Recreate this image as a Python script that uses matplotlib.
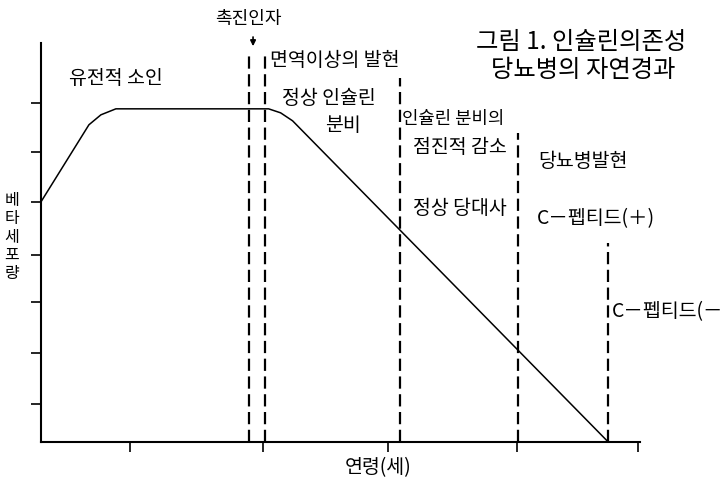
import matplotlib.pyplot as plt

plt.rcParams['font.family'] = ['Noto Sans CJK KR', 'DejaVu Sans']

# 베타세포량 곡선 (임의 단위, 가로 0~100 / 세로 0~100)
age = [0, 8, 10, 12.5, 38, 40, 42, 94.7]
beta_mass = [60.2, 79.5, 82, 83.5, 83.5, 82.5, 80.5, 0]

# 단계 구분 점선 (x 위치, 위쪽 끝)
stage_x = [34.7, 37.4, 59.9, 79.6, 94.7]
stage_top = [97, 97, 91.2, 77.4, 49.9]

yticks = [9.5, 22.3, 35.1, 46.9, 60.2, 72.7, 85.0]
xticks = [14.9, 37.1, 57.9, 79.5, 99.7]

fig = plt.figure(figsize=(7.25, 4.79), dpi=100)
ax = fig.add_axes([41 / 725, 37 / 479, 599 / 725, 399 / 479])
ax.set_xlim(0, 100)
ax.set_ylim(0, 100)

ax.plot(age, beta_mass, color='black', lw=1.1, solid_joinstyle='round')
for x, top in zip(stage_x, stage_top):
    ax.plot([x, x], [0, top], color='black', lw=1.6, dashes=(5.5, 2.5),
            clip_on=False)

for s in ['top', 'right']:
    ax.spines[s].set_visible(False)
for s in ['left', 'bottom']:
    ax.spines[s].set_linewidth(1.5)
ax.set_xticks(xticks)
ax.set_yticks(yticks)
ax.set_xticklabels([])
ax.set_yticklabels([])
ax.tick_params(direction='out', length=7, width=1.2)

fs = 14
ax.annotate('', xy=(35.4, 98.5), xytext=(35.4, 102.2),
            arrowprops=dict(arrowstyle='-|>', color='black', lw=1.2,
                            mutation_scale=8),
            annotation_clip=False)
ax.text(34.6, 106.0, '촉진인자', ha='center', va='center', fontsize=13, clip_on=False)
ax.text(12.5, 91.0, '유전적 소인', ha='center', va='center', fontsize=fs)
ax.text(38.2, 95.7, '면역이상의 발현', ha='left', va='center', fontsize=fs)
ax.text(48.0, 86.2, '정상 인슐린', ha='center', va='center', fontsize=fs)
ax.text(50.4, 79.4, '분비', ha='center', va='center', fontsize=fs)
ax.text(60.3, 81.0, '인슐린 분비의', ha='left', va='center', fontsize=12.8)
ax.text(70.0, 73.7, '점진적 감소', ha='center', va='center', fontsize=fs)
ax.text(70.0, 58.6, '정상 당대사', ha='center', va='center', fontsize=fs)
ax.text(90.5, 70.2, '당뇨병발현', ha='center', va='center', fontsize=fs)
ax.text(82.8, 56.1, 'C－펩티드(＋)', ha='left', va='center', fontsize=fs)
ax.text(95.3, 32.6, 'C－펩티드(－', ha='left', va='center', fontsize=fs, clip_on=False)

fig.text(581 / 725, 1 - 42 / 479, '그림 1. 인슐린의존성', ha='center', va='center', fontsize=17.5)
fig.text(583 / 725, 1 - 70 / 479, '당뇨병의 자연경과', ha='center', va='center', fontsize=17.5)
fig.text(12 / 725, 1 - 237 / 479, '베\n타\n세\n포\n량', ha='center', va='center',
         fontsize=11.5, linespacing=1.1)
fig.text(378 / 725, 1 - 468 / 479, '연령(세)', ha='center', va='center', fontsize=14)

fig.savefig('out.png', dpi=100)
